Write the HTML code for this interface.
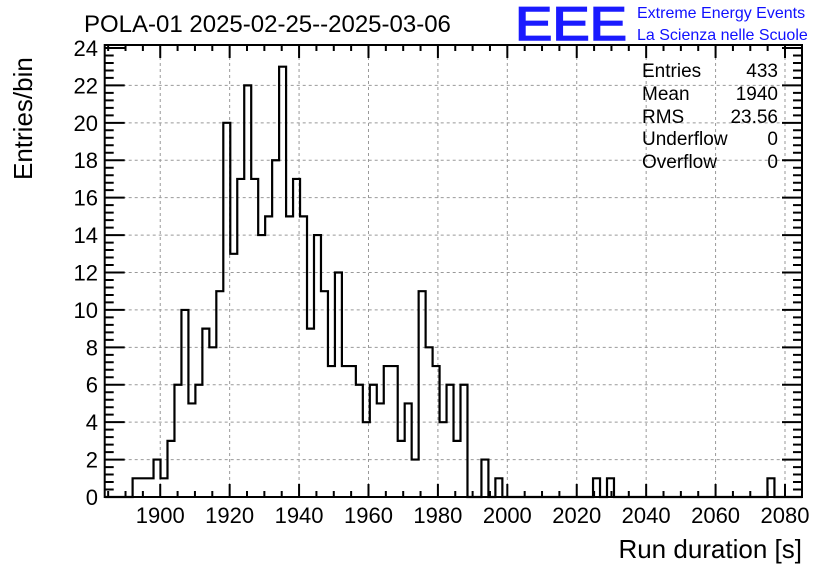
<!DOCTYPE html>
<html><head><meta charset="utf-8"><style>
body{margin:0;background:#fff}
svg{display:block;font-family:"Liberation Sans",sans-serif}
</style></head><body>
<svg id="c" width="836" height="572" xmlns="http://www.w3.org/2000/svg">
<text x="84" y="32" font-size="24">POLA-01 2025-02-25--2025-03-06</text>
<text x="515" y="40" font-size="47" fill="#1a1aff" stroke="#1a1aff" stroke-width="1.5" textLength="112" lengthAdjust="spacingAndGlyphs">EEE</text>
<text x="637" y="18" font-size="16" fill="#1010ff">Extreme Energy Events</text>
<text x="637" y="40" font-size="16" fill="#1010ff">La Scienza nelle Scuole</text>
<g id="grid"></g>
<g id="ticks"></g>
<path id="hist" fill="none" stroke="#000" stroke-width="2.2"/>
<rect x="104.7" y="45" width="697.3" height="452" fill="none" stroke="#000" stroke-width="2"/>
<g font-size="19">
<text x="642" y="77">Entries</text><text x="778" y="77" text-anchor="end">433</text>
<text x="642" y="100">Mean</text><text x="778" y="100" text-anchor="end">1940</text>
<text x="642" y="123">RMS</text><text x="778" y="123" text-anchor="end">23.56</text>
<text x="642" y="145">Underflow</text><text x="778" y="145" text-anchor="end">0</text>
<text x="642" y="168">Overflow</text><text x="778" y="168" text-anchor="end">0</text>
</g>
<text x="802" y="558" font-size="26" text-anchor="end">Run duration [s]</text>
<text transform="translate(32,180) rotate(-90)" font-size="26">Entries/bin</text>
</svg>
<script>
const binStart = 1884;
const binWidth = 2.01;
const firstBin = 4;
const counts = [1,1,1,2,1,3,6,10,5,6,9,8,11,20,13,17,22,17,14,15,18,23,15,17,15,9,14,11,7,12,7,7,6,4,6,5,7,7,3,5,2,11,8,7,4,6,3,6,0,0,2,0,1];
const extraBins = [70,72,95];
const extraCounts = [1,1,1];
const xTicks = [1900,1920,1940,1960,1980,2000,2020,2040,2060,2080];
const yTicks = [0,2,4,6,8,10,12,14,16,18,20,22,24];
const X0=104.7,X1=802,Y0=497,Y1=45,xmin=1884,xmax=2084.9,ymax=24.16;
const sx=v=>X0+(v-xmin)/(xmax-xmin)*(X1-X0);
const sy=v=>Y0-v/ymax*(Y0-Y1);
const NS="http://www.w3.org/2000/svg";
function mk(tag,attrs,parent){const e=document.createElementNS(NS,tag);for(const k in attrs)e.setAttribute(k,attrs[k]);document.getElementById(parent).appendChild(e);return e;}
const vals={};
counts.forEach((c,i)=>vals[firstBin+i]=c);
extraBins.forEach((b,i)=>vals[b]=extraCounts[i]);
const nb=Math.round((xmax-binStart)/binWidth);
let d="M"+sx(binStart)+","+sy(0);
for(let k=0;k<nb;k++){const v=vals[k]||0;const a=sx(binStart+k*binWidth),b=sx(binStart+(k+1)*binWidth);d+=" L"+a+","+sy(v)+" L"+b+","+sy(v);}
document.getElementById('hist').setAttribute('d',d);
xTicks.forEach(t=>{const x=sx(t);
const g=mk('line',{x1:x,x2:x,y1:Y1,y2:Y0,stroke:'#999','stroke-dasharray':'3,3','stroke-width':1},'grid');


const l=mk('text',{x:x,y:523,'font-size':22,'text-anchor':'middle'},'ticks');l.textContent=t;

});
yTicks.forEach(t=>{const y=sy(t);
if(t>0&&t<24){const g=mk('line',{x1:X0,x2:X1,y1:y,y2:y,stroke:'#999','stroke-dasharray':'3,3','stroke-width':1},'grid');

}
const l=mk('text',{x:98,y:y+8,'font-size':22,'text-anchor':'end'},'ticks');l.textContent=t;

});
let td="";
for(let v=1885;v<=2084;v+=5){const x=sx(v);const L=(v%20===0)?13:6;td+=`M${x},${Y0}v${-L}M${x},${Y1}v${L}`;}
for(let v=0;v<=24.01;v+=0.4){const y=sy(v);const m=Math.abs(v/2-Math.round(v/2))<0.01;const L=m?20:9;td+=`M${X0},${y}h${L}M${X1},${y}h${-L}`;}
const tp=mk('path',{d:td,stroke:'#000','stroke-width':2,fill:'none'},'ticks');


</script>
</body></html>
